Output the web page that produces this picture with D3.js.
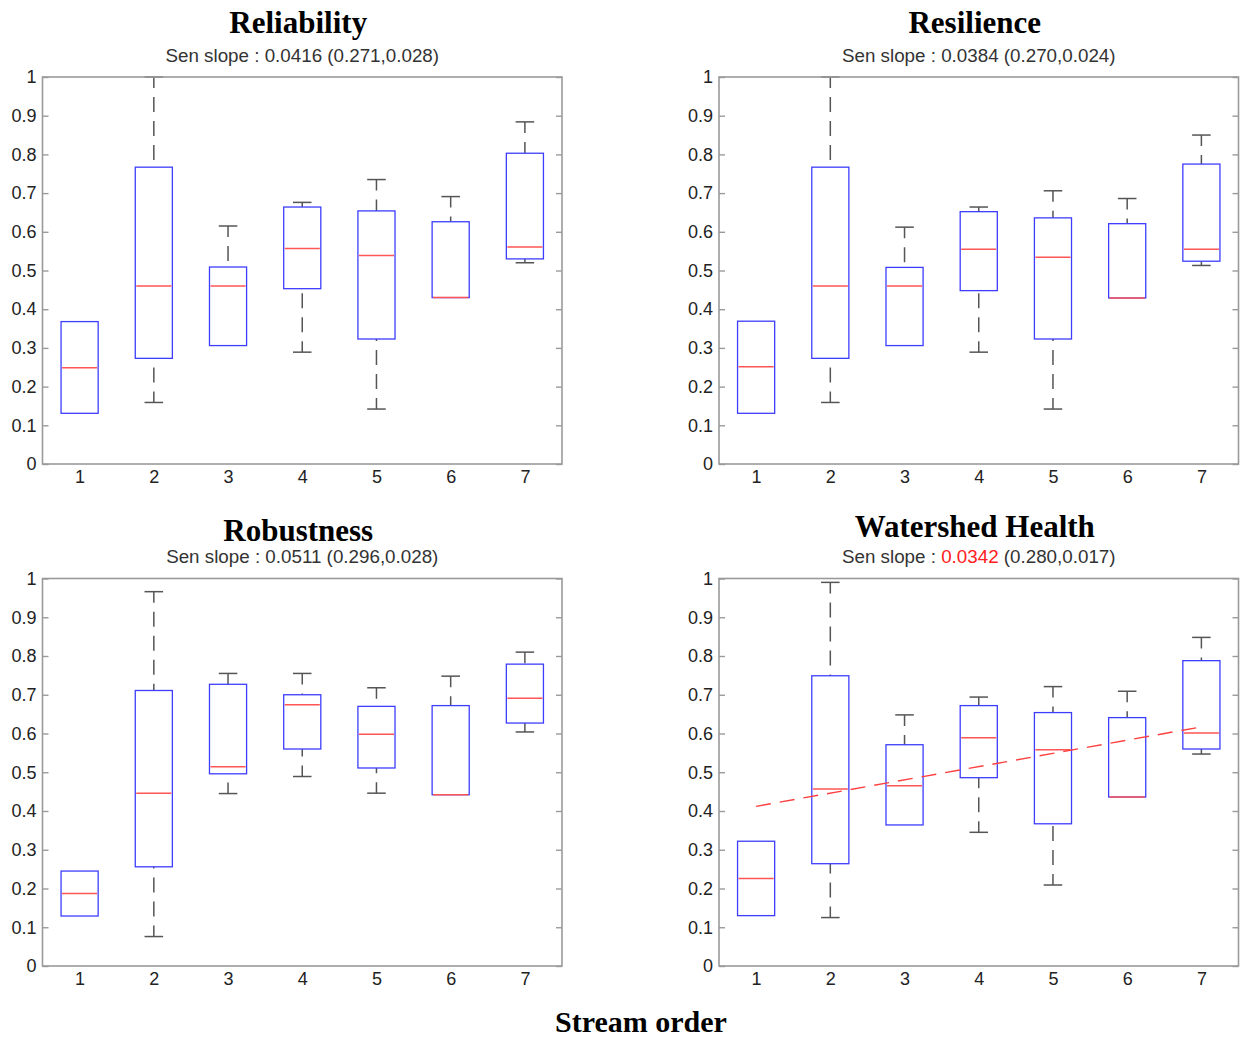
<!DOCTYPE html>
<html>
<head>
<meta charset="utf-8">
<script src="https://cdn.jsdelivr.net/npm/d3@7/dist/d3.min.js"></script>
<style>
  html, body { margin: 0; padding: 0; background: #fff; }
  svg { display: block; }
</style>
</head>
<body>
<svg id="chart" width="1241" height="1040"></svg>
<script>
// ---------- data ----------
const categories = [1, 2, 3, 4, 5, 6, 7];
const yTickValues = [0, 0.1, 0.2, 0.3, 0.4, 0.5, 0.6, 0.7, 0.8, 0.9, 1];
const yTickLabels = ["0", "0.1", "0.2", "0.3", "0.4", "0.5", "0.6", "0.7", "0.8", "0.9", "1"];
const xTickLabels = ["1", "2", "3", "4", "5", "6", "7"];

const panelTitles = ["Reliability", "Resilience", "Robustness", "Watershed Health"];
const senSlopes = ["0.0416", "0.0384", "0.0511", "0.0342"];
const senIntervals = ["(0.271,0.028)", "(0.270,0.024)", "(0.296,0.028)", "(0.280,0.017)"];
const slopeSignificant = [false, false, false, true];

// Reliability
const relLower  = [0.131, 0.159, 0.306, 0.289, 0.142, 0.430, 0.520];
const relQ1     = [0.131, 0.273, 0.306, 0.453, 0.323, 0.430, 0.530];
const relMedian = [0.249, 0.460, 0.460, 0.557, 0.539, 0.430, 0.561];
const relQ3     = [0.368, 0.767, 0.509, 0.664, 0.654, 0.626, 0.803];
const relUpper  = [0.368, 1.000, 0.615, 0.676, 0.735, 0.691, 0.884];

// Resilience
const resLower  = [0.131, 0.159, 0.306, 0.289, 0.142, 0.429, 0.513];
const resQ1     = [0.131, 0.273, 0.306, 0.448, 0.323, 0.429, 0.524];
const resMedian = [0.251, 0.460, 0.460, 0.555, 0.534, 0.429, 0.555];
const resQ3     = [0.369, 0.767, 0.508, 0.652, 0.636, 0.621, 0.775];
const resUpper  = [0.369, 1.000, 0.612, 0.664, 0.706, 0.686, 0.850];

// Robustness
const robLower  = [0.129, 0.076, 0.445, 0.489, 0.446, 0.442, 0.604];
const robQ1     = [0.129, 0.256, 0.496, 0.560, 0.511, 0.442, 0.627];
const robMedian = [0.187, 0.446, 0.514, 0.674, 0.598, 0.442, 0.691];
const robQ3     = [0.245, 0.711, 0.727, 0.700, 0.670, 0.672, 0.779];
const robUpper  = [0.245, 0.966, 0.755, 0.755, 0.718, 0.748, 0.810];

// Watershed Health
const whLower  = [0.130, 0.125, 0.364, 0.345, 0.209, 0.436, 0.547];
const whQ1     = [0.130, 0.264, 0.364, 0.486, 0.367, 0.436, 0.560];
const whMedian = [0.226, 0.457, 0.465, 0.589, 0.558, 0.436, 0.601];
const whQ3     = [0.322, 0.749, 0.571, 0.672, 0.654, 0.641, 0.788];
const whUpper  = [0.322, 0.990, 0.648, 0.694, 0.721, 0.709, 0.848];

// Sen slope trend line (Watershed Health)
const trendX = [1, 7];
const trendY = [0.412, 0.617];

const xLabel = "Stream order";

// ---------- layout ----------
const svg = d3.select("#chart");
const SANS = "'Liberation Sans', Arial, Helvetica, sans-serif";
const SERIF = "'Liberation Serif', 'Times New Roman', Times, serif";

const stats = [
  [relLower, relQ1, relMedian, relQ3, relUpper],
  [resLower, resQ1, resMedian, resQ3, resUpper],
  [robLower, robQ1, robMedian, robQ3, robUpper],
  [whLower, whQ1, whMedian, whQ3, whUpper]
];

const layout = [
  {left: 42.5, right: 562, top: 77, bottom: 464, titleY: 33, subY: 62},
  {left: 719, right: 1238.5, top: 77, bottom: 464, titleY: 33, subY: 62},
  {left: 42.5, right: 562, top: 578.5, bottom: 966, titleY: 541, subY: 563},
  {left: 719, right: 1238.5, top: 578.5, bottom: 966, titleY: 537, subY: 563}
];

const BOX = "#3d3dff";
const MED = "#ff5555";
const WHISK = "#555";
const FRAME = "#9a9a9a";

layout.forEach((L, p) => {
  const g = svg.append("g");
  const x = d3.scaleLinear().domain([0.5, 7.5]).range([L.left, L.right]);
  const y = d3.scaleLinear().domain([0, 1]).range([L.bottom, L.top]);
  const [lo, q1, med, q3, hi] = stats[p];
  const rows = categories.map((c, i) => ({c, lo: lo[i], q1: q1[i], med: med[i], q3: q3[i], hi: hi[i]}));
  const boxW = 0.5, capW = 0.25;

  // whiskers (dashed)
  g.selectAll(".wu").data(rows.filter(d => d.hi > d.q3)).join("line")
    .attr("x1", d => x(d.c)).attr("x2", d => x(d.c))
    .attr("y1", d => y(d.hi)).attr("y2", d => y(d.q3))
    .attr("stroke", WHISK).attr("stroke-width", 1.5)
    .attr("stroke-dasharray", "15,9").attr("stroke-dashoffset", 4);
  g.selectAll(".wl").data(rows.filter(d => d.lo < d.q1)).join("line")
    .attr("x1", d => x(d.c)).attr("x2", d => x(d.c))
    .attr("y1", d => y(d.lo)).attr("y2", d => y(d.q1))
    .attr("stroke", WHISK).attr("stroke-width", 1.5)
    .attr("stroke-dasharray", "15,9").attr("stroke-dashoffset", 4);
  // caps
  g.selectAll(".cu").data(rows.filter(d => d.hi > d.q3)).join("line")
    .attr("x1", d => x(d.c - capW / 2)).attr("x2", d => x(d.c + capW / 2))
    .attr("y1", d => y(d.hi)).attr("y2", d => y(d.hi))
    .attr("stroke", WHISK).attr("stroke-width", 1.5);
  g.selectAll(".cl").data(rows.filter(d => d.lo < d.q1)).join("line")
    .attr("x1", d => x(d.c - capW / 2)).attr("x2", d => x(d.c + capW / 2))
    .attr("y1", d => y(d.lo)).attr("y2", d => y(d.lo))
    .attr("stroke", WHISK).attr("stroke-width", 1.5);
  // boxes
  g.selectAll(".bx").data(rows).join("rect")
    .attr("x", d => x(d.c - boxW / 2)).attr("width", d => x(d.c + boxW / 2) - x(d.c - boxW / 2))
    .attr("y", d => y(d.q3)).attr("height", d => y(d.q1) - y(d.q3))
    .attr("fill", "none").attr("stroke", BOX).attr("stroke-width", 1.3);
  // medians
  g.selectAll(".md").data(rows).join("line")
    .attr("x1", d => x(d.c - boxW / 2) + 1).attr("x2", d => x(d.c + boxW / 2) - 1)
    .attr("y1", d => y(d.med)).attr("y2", d => y(d.med))
    .attr("stroke", MED).attr("stroke-width", 1.5);

  // trend line
  if (slopeSignificant[p]) {
    const line = d3.line().x(d => x(d[0])).y(d => y(d[1]));
    g.append("path").datum(trendX.map((v, i) => [v, trendY[i]]))
      .attr("d", line).attr("fill", "none")
      .attr("stroke", "#ff4040").attr("stroke-width", 1.4)
      .attr("stroke-dasharray", "15,9");
  }

  // frame
  g.append("rect").attr("x", L.left).attr("y", L.top)
    .attr("width", L.right - L.left).attr("height", L.bottom - L.top)
    .attr("fill", "none").attr("stroke", FRAME).attr("stroke-width", 1.6);

  // y axis left (inward ticks)
  const ya = g.append("g").attr("transform", `translate(${L.left},0)`)
    .call(d3.axisLeft(y).tickValues(yTickValues).tickFormat((d, i) => yTickLabels[i])
      .tickSizeInner(-6).tickSizeOuter(0).tickPadding(6));
  ya.select(".domain").remove();
  ya.selectAll("line").attr("stroke", FRAME).attr("stroke-width", 1.4);
  ya.selectAll("text").attr("font-family", SANS).attr("font-size", 18).attr("fill", "#222");

  const yr = g.append("g").attr("transform", `translate(${L.right},0)`)
    .call(d3.axisRight(y).tickValues(yTickValues).tickFormat("")
      .tickSizeInner(-6).tickSizeOuter(0));
  yr.select(".domain").remove();
  yr.selectAll("line").attr("stroke", FRAME).attr("stroke-width", 1.4);

  // x axis
  const xa = g.append("g").attr("transform", `translate(0,${L.bottom})`)
    .call(d3.axisBottom(x).tickValues(categories).tickFormat((d, i) => xTickLabels[i])
      .tickSize(0).tickPadding(6));
  xa.select(".domain").remove();
  xa.selectAll("text").attr("font-family", SANS).attr("font-size", 18).attr("fill", "#222");

  // titles
  const cx = (L.left + L.right) / 2 - 4;
  svg.append("text").attr("x", cx).attr("y", L.titleY)
    .attr("text-anchor", "middle").attr("font-family", SERIF)
    .attr("font-weight", "bold").attr("font-size", 31).attr("fill", "#000")
    .text(panelTitles[p]);
  const st = svg.append("text").attr("x", (L.left + L.right) / 2).attr("y", L.subY)
    .attr("text-anchor", "middle").attr("font-family", SANS)
    .attr("font-size", 18.8).attr("fill", "#333");
  st.append("tspan").text("Sen slope : ");
  st.append("tspan").attr("fill", slopeSignificant[p] ? "#ff2020" : "#333").text(senSlopes[p]);
  st.append("tspan").text(" " + senIntervals[p]);
});

svg.append("text").attr("x", 641).attr("y", 1032)
  .attr("text-anchor", "middle").attr("font-family", SERIF)
  .attr("font-weight", "bold").attr("font-size", 30).attr("fill", "#000")
  .text(xLabel);
</script>
</body>
</html>
